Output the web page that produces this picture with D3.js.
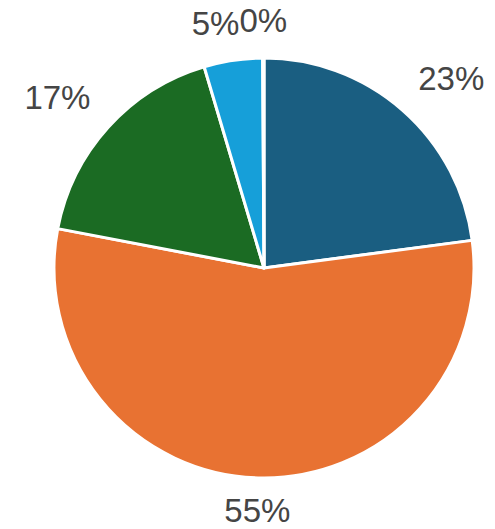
<!DOCTYPE html>
<html><head><meta charset="utf-8">
<script src="https://cdn.jsdelivr.net/npm/d3@7/dist/d3.min.js"></script>
<style>body{margin:0;background:#fff}</style>
</head><body>
<svg id="chart" width="495" height="529"></svg>
<script>
const categories = ["A", "B", "C", "D", "E"];
const values = [22.9, 55.1, 17.4, 4.5, 0.1];
const labels = ["23%", "55%", "17%", "5%", "0%"];
const colors = ["#1a5e81", "#e87232", "#1b6b23", "#169fd9", "#8fc3e0"];

const svg = d3.select("#chart");
const cx = 264, cy = 268, r = 210;
const g = svg.append("g").attr("transform", `translate(${cx},${cy})`);
const pie = d3.pie().sort(null).value(d => d.v);
const data = pie(categories.map((c, i) => ({c, v: values[i], l: labels[i], col: colors[i]})));
const arc = d3.arc().innerRadius(0).outerRadius(r);
g.selectAll("path").data(data).join("path")
  .attr("d", arc).attr("fill", d => d.data.col)
  .attr("stroke", "#fff").attr("stroke-width", 3).attr("stroke-linejoin", "round");

const lr = 234;
const lab = data.map(d => {
  const a = (d.startAngle + d.endAngle) / 2;
  const s = Math.sin(a), c = Math.cos(a);
  return {d, x: lr * s, y: -lr * c, s, c,
    anchor: s > 0.1 ? "start" : (s < -0.1 ? "end" : "middle")};
});
const texts = g.selectAll("text.lbl").data(lab).join("text")
  .attr("class", "lbl")
  .attr("x", d => d.x).attr("y", d => d.y)
  .attr("dy", d => d.c >= 0 ? "-0.05em" : "0.6em")
  .attr("text-anchor", d => d.anchor)
  .attr("font-family", "Liberation Sans, Arial, sans-serif")
  .attr("font-size", 33).attr("fill", "#454545")
  .text(d => d.d.data.l);

// pack neighbouring labels that sit close together near the top
const nodes = texts.nodes();
for (let i = 0; i < nodes.length; i++) {
  for (let j = i + 1; j < nodes.length; j++) {
    const a = nodes[i].getBBox(), b = nodes[j].getBBox();
    const vOverlap = Math.min(a.y + a.height, b.y + b.height) - Math.max(a.y, b.y);
    if (vOverlap > a.height * 0.5) {
      const left = a.x < b.x ? [nodes[i], a] : [nodes[j], b];
      const right = a.x < b.x ? [nodes[j], b] : [nodes[i], a];
      const gap = right[1].x - (left[1].x + left[1].width);
      if (gap > 0 && gap < 20) {
        left[0].setAttribute("x", +left[0].getAttribute("x") + gap);
      }
    }
  }
}
</script>
</body></html>
